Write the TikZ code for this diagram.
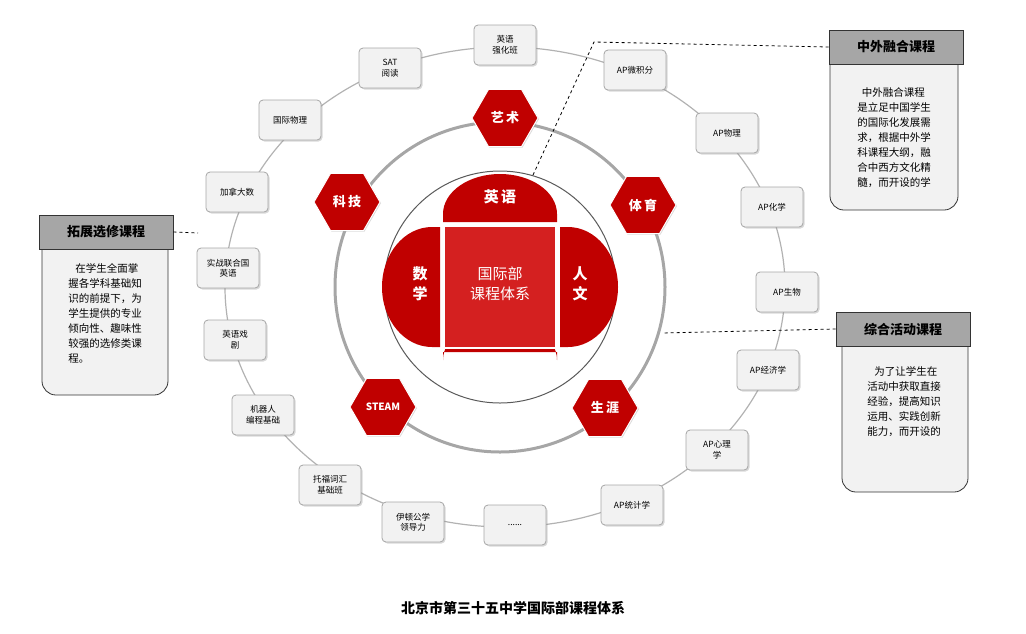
\documentclass[tikz,border=0pt]{standalone}
\usepackage{fontspec}
\setmainfont{Noto Sans CJK SC}
\usetikzlibrary{shapes.geometric,shadows}
\definecolor{dred}{HTML}{C00000}
\definecolor{mred}{HTML}{D42020}
\definecolor{hgray}{HTML}{A6A6A6}
\definecolor{bgray}{HTML}{F2F2F2}
\tikzset{
  course/.style={draw=gray!70, fill=bgray, rounded corners=4pt, line width=0.8pt,
    minimum width=62pt, minimum height=40pt, align=center, font=\fontsize{8.5}{10.5}\selectfont,
    drop shadow={shadow xshift=1.5pt, shadow yshift=-1.5pt, opacity=0.3}},
  hexa/.style={regular polygon, regular polygon sides=6, fill=dred, draw=white, line width=1pt,
    minimum size=66pt, inner sep=0pt, text=white, font=\bfseries\fontsize{13}{14}\selectfont,
    drop shadow={shadow xshift=1pt, shadow yshift=-1pt, opacity=0.3}},
  head/.style={draw=gray!40!black, fill=hgray, line width=0.8pt, minimum width=134pt,
    minimum height=34pt, font=\bfseries\fontsize{13}{14}\selectfont},
  body/.style={draw=gray!40!black, fill=bgray, line width=0.8pt, rounded corners=14pt},
  link/.style={dashed, line width=0.8pt},
  petal/.style={fill=dred},
}
\begin{document}
\begin{tikzpicture}[x=1pt,y=-1pt]
\useasboundingbox (0,0) rectangle (1026,633);

% rings
\draw[gray!60, line width=1.2pt] (505,287) ellipse [x radius=280, y radius=240];
\draw[gray!70, line width=3pt] (500,287) circle [radius=165];
\draw[gray!70!black, line width=1pt] (500,287) circle [radius=116];

% inner petals
\fill[petal] (443,222) -- ++(0,-8) arc [start angle=180, end angle=0, x radius=57, y radius=-40] -- ++(0,8) -- cycle;
\fill[petal] (443,352) -- ++(0,8) arc [start angle=180, end angle=360, x radius=57, y radius=40] -- ++(0,-8) -- cycle;
\fill[petal] (440,227) -- ++(-8,0) arc [start angle=90, end angle=270, x radius=50, y radius=-60] -- ++(8,0) -- cycle;
\fill[petal] (560,227) -- ++(8,0) arc [start angle=90, end angle=-90, x radius=50, y radius=-60] -- ++(-8,0) -- cycle;
\node[fill=mred, draw=white, line width=1.5pt, minimum width=112pt, minimum height=122pt] (core) at (500,287) {};
\node[text=white, align=center, font=\fontsize{15}{20}\selectfont] (coret) at (500,284) {国际部\\课程体系};
\node[text=white, font=\bfseries\fontsize{15}{16}\selectfont] (eng) at (500,197) {英\,语};
\node[text=white, font=\bfseries\fontsize{15}{16}\selectfont] (sci) at (500,373) {科\,学};
\node[text=white, align=center, font=\bfseries\fontsize{15}{20}\selectfont] (math) at (420,284) {数\\学};
\node[text=white, align=center, font=\bfseries\fontsize{15}{20}\selectfont] (hum) at (580,284) {人\\文};

% hexagons
\node[hexa] (art) at (505,118) {艺\,术};
\node[hexa] (tech) at (347,202) {科\,技};
\node[hexa] (pe) at (643,205) {体\,育};
\node[hexa] (steam) at (383,407) {\fontsize{10}{12}\selectfont STEAM};
\node[hexa] (car) at (605,408) {生\,涯};

% course boxes
\node[course] (c1) at (505,45) {英语\\强化班};
\node[course] (c2) at (635,70) {AP微积分};
\node[course] (c3) at (727,133) {AP物理};
\node[course] (c4) at (772,207) {AP化学};
\node[course] (c5) at (787,292) {AP生物};
\node[course] (c6) at (768,370) {AP经济学};
\node[course] (c7) at (717,450) {AP心理\\学};
\node[course] (c8) at (632,505) {AP统计学};
\node[course] (c9) at (515,525) {......};
\node[course] (c10) at (413,522) {伊顿公学\\领导力};
\node[course] (c11) at (330,485) {托福词汇\\基础班};
\node[course] (c12) at (263,415) {机器人\\编程基础};
\node[course] (c13) at (235,340) {英语戏\\剧};
\node[course] (c14) at (228,268) {实战联合国\\英语};
\node[course] (c15) at (237,192) {加拿大数};
\node[course] (c16) at (290,120) {国际物理};
\node[course] (c17) at (390,68) {SAT\\阅读};

% side panels
\draw[body] (830,50) -- (830,210) -- (958,210) -- (958,50);
\node[head] (h1) at (896,47) {中外融合课程};
\node[align=left, font=\fontsize{10.5}{15}\selectfont] (t1) at (894,138) {\ \ 中外融合课程\\是立足中国学生\\的国际化发展需\\求，根据中外学\\科课程大纲，融\\合中西方文化精\\髓，而开设的学};

\draw[body] (842,330) -- (842,492) -- (968,492) -- (968,330);
\node[head] (h2) at (903,329) {综合活动课程};
\node[align=left, font=\fontsize{10.5}{15}\selectfont] (t2) at (904,402) {\ \ \ 为了让学生在\\活动中获取直接\\经验，提高知识\\运用、实践创新\\能力，而开设的};

\draw[body] (42,235) -- (42,395) -- (168,395) -- (168,235);
\node[head] (h3) at (106,232) {拓展选修课程};
\node[align=left, font=\fontsize{10.5}{15}\selectfont] (t3) at (105,313) {\ \ \ 在学生全面掌\\握各学科基础知\\识的前提下，为\\学生提供的专业\\倾向性、趣味性\\较强的选修类课\\程。};

% dashed links
\coordinate (k1) at (594,42);
\coordinate (e1) at (533,175);
\coordinate (e2) at (662,333);
\coordinate (e3) at (198,233);
\draw[link] (h1.west) -- (k1) -- (e1);
\draw[link] (h2.west) -- (e2);
\draw[link] (h3.east) -- (e3);

% caption
\node[font=\bfseries\fontsize{14}{16}\selectfont] (cap) at (513,608) {北京市第三十五中学国际部课程体系};
\end{tikzpicture}
\end{document}
